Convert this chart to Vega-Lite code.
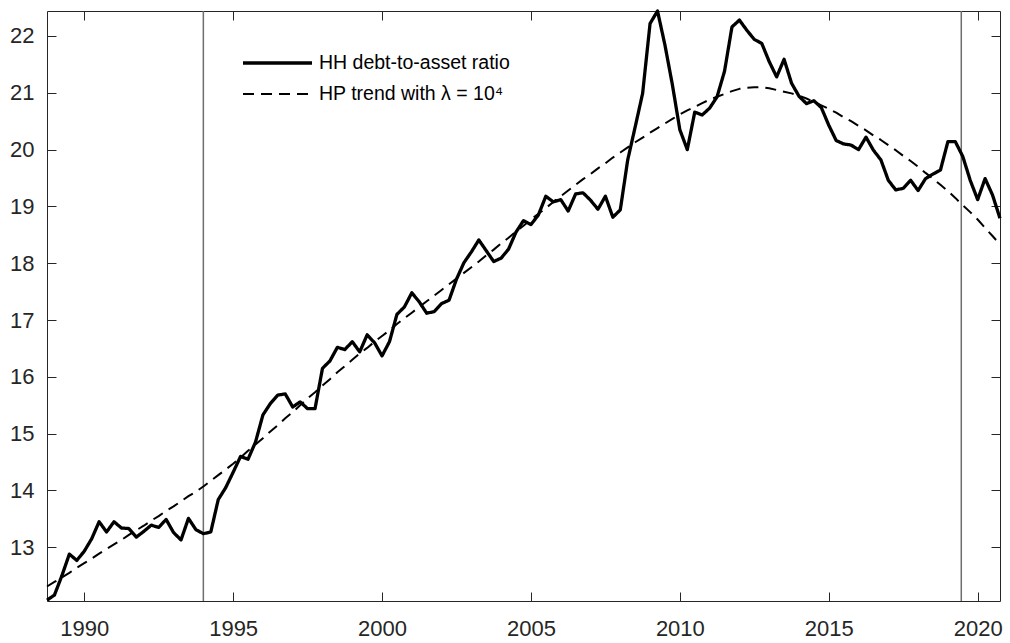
{
  "$schema": "https://vega.github.io/schema/vega-lite/v6.json",
  "width": 953,
  "height": 590,
  "autosize": {"type": "none"},
  "padding": {"left": 47, "top": 11, "right": 10, "bottom": 42},
  "background": "white",
  "config": {"view": {"stroke": null}, "font": "Liberation Sans"},
  "datasets": {
    "hh": [
      {"t": 1988.75, "ratio": 12.07, "trend": 12.31},
      {"t": 1989, "ratio": 12.16, "trend": 12.39},
      {"t": 1989.25, "ratio": 12.5, "trend": 12.47},
      {"t": 1989.5, "ratio": 12.88, "trend": 12.55},
      {"t": 1989.75, "ratio": 12.77, "trend": 12.64},
      {"t": 1990, "ratio": 12.93, "trend": 12.72},
      {"t": 1990.25, "ratio": 13.15, "trend": 12.8},
      {"t": 1990.5, "ratio": 13.45, "trend": 12.89},
      {"t": 1990.75, "ratio": 13.27, "trend": 12.97},
      {"t": 1991, "ratio": 13.45, "trend": 13.05},
      {"t": 1991.25, "ratio": 13.34, "trend": 13.13},
      {"t": 1991.5, "ratio": 13.33, "trend": 13.22},
      {"t": 1991.75, "ratio": 13.18, "trend": 13.3},
      {"t": 1992, "ratio": 13.28, "trend": 13.38},
      {"t": 1992.25, "ratio": 13.39, "trend": 13.47},
      {"t": 1992.5, "ratio": 13.35, "trend": 13.55},
      {"t": 1992.75, "ratio": 13.49, "trend": 13.64},
      {"t": 1993, "ratio": 13.26, "trend": 13.72},
      {"t": 1993.25, "ratio": 13.13, "trend": 13.81},
      {"t": 1993.5, "ratio": 13.51, "trend": 13.9},
      {"t": 1993.75, "ratio": 13.31, "trend": 13.98},
      {"t": 1994, "ratio": 13.24, "trend": 14.07},
      {"t": 1994.25, "ratio": 13.27, "trend": 14.17},
      {"t": 1994.5, "ratio": 13.84, "trend": 14.27},
      {"t": 1994.75, "ratio": 14.05, "trend": 14.37},
      {"t": 1995, "ratio": 14.32, "trend": 14.47},
      {"t": 1995.25, "ratio": 14.6, "trend": 14.58},
      {"t": 1995.5, "ratio": 14.55, "trend": 14.7},
      {"t": 1995.75, "ratio": 14.85, "trend": 14.81},
      {"t": 1996, "ratio": 15.33, "trend": 14.92},
      {"t": 1996.25, "ratio": 15.53, "trend": 15.04},
      {"t": 1996.5, "ratio": 15.68, "trend": 15.15},
      {"t": 1996.75, "ratio": 15.7, "trend": 15.27},
      {"t": 1997, "ratio": 15.47, "trend": 15.38},
      {"t": 1997.25, "ratio": 15.56, "trend": 15.5},
      {"t": 1997.5, "ratio": 15.44, "trend": 15.62},
      {"t": 1997.75, "ratio": 15.44, "trend": 15.73},
      {"t": 1998, "ratio": 16.15, "trend": 15.85},
      {"t": 1998.25, "ratio": 16.28, "trend": 15.96},
      {"t": 1998.5, "ratio": 16.52, "trend": 16.08},
      {"t": 1998.75, "ratio": 16.48, "trend": 16.19},
      {"t": 1999, "ratio": 16.62, "trend": 16.3},
      {"t": 1999.25, "ratio": 16.44, "trend": 16.41},
      {"t": 1999.5, "ratio": 16.74, "trend": 16.51},
      {"t": 1999.75, "ratio": 16.6, "trend": 16.62},
      {"t": 2000, "ratio": 16.37, "trend": 16.72},
      {"t": 2000.25, "ratio": 16.62, "trend": 16.82},
      {"t": 2000.5, "ratio": 17.1, "trend": 16.93},
      {"t": 2000.75, "ratio": 17.23, "trend": 17.03},
      {"t": 2001, "ratio": 17.48, "trend": 17.13},
      {"t": 2001.25, "ratio": 17.32, "trend": 17.23},
      {"t": 2001.5, "ratio": 17.12, "trend": 17.33},
      {"t": 2001.75, "ratio": 17.15, "trend": 17.43},
      {"t": 2002, "ratio": 17.29, "trend": 17.53},
      {"t": 2002.25, "ratio": 17.35, "trend": 17.63},
      {"t": 2002.5, "ratio": 17.72, "trend": 17.73},
      {"t": 2002.75, "ratio": 18.01, "trend": 17.83},
      {"t": 2003, "ratio": 18.2, "trend": 17.93},
      {"t": 2003.25, "ratio": 18.41, "trend": 18.03},
      {"t": 2003.5, "ratio": 18.22, "trend": 18.14},
      {"t": 2003.75, "ratio": 18.03, "trend": 18.24},
      {"t": 2004, "ratio": 18.09, "trend": 18.35},
      {"t": 2004.25, "ratio": 18.25, "trend": 18.45},
      {"t": 2004.5, "ratio": 18.55, "trend": 18.56},
      {"t": 2004.75, "ratio": 18.75, "trend": 18.66},
      {"t": 2005, "ratio": 18.68, "trend": 18.77},
      {"t": 2005.25, "ratio": 18.85, "trend": 18.87},
      {"t": 2005.5, "ratio": 19.18, "trend": 18.97},
      {"t": 2005.75, "ratio": 19.08, "trend": 19.08},
      {"t": 2006, "ratio": 19.12, "trend": 19.18},
      {"t": 2006.25, "ratio": 18.92, "trend": 19.28},
      {"t": 2006.5, "ratio": 19.22, "trend": 19.38},
      {"t": 2006.75, "ratio": 19.24, "trend": 19.48},
      {"t": 2007, "ratio": 19.11, "trend": 19.57},
      {"t": 2007.25, "ratio": 18.95, "trend": 19.67},
      {"t": 2007.5, "ratio": 19.18, "trend": 19.76},
      {"t": 2007.75, "ratio": 18.81, "trend": 19.86},
      {"t": 2008, "ratio": 18.94, "trend": 19.95},
      {"t": 2008.25, "ratio": 19.82, "trend": 20.04},
      {"t": 2008.5, "ratio": 20.4, "trend": 20.13},
      {"t": 2008.75, "ratio": 20.99, "trend": 20.21},
      {"t": 2009, "ratio": 22.22, "trend": 20.3},
      {"t": 2009.25, "ratio": 22.44, "trend": 20.38},
      {"t": 2009.5, "ratio": 21.84, "trend": 20.46},
      {"t": 2009.75, "ratio": 21.14, "trend": 20.54},
      {"t": 2010, "ratio": 20.35, "trend": 20.62},
      {"t": 2010.25, "ratio": 20.0, "trend": 20.69},
      {"t": 2010.5, "ratio": 20.66, "trend": 20.75},
      {"t": 2010.75, "ratio": 20.61, "trend": 20.82},
      {"t": 2011, "ratio": 20.73, "trend": 20.88},
      {"t": 2011.25, "ratio": 20.93, "trend": 20.93},
      {"t": 2011.5, "ratio": 21.38, "trend": 20.98},
      {"t": 2011.75, "ratio": 22.16, "trend": 21.03},
      {"t": 2012, "ratio": 22.28, "trend": 21.07},
      {"t": 2012.25, "ratio": 22.1, "trend": 21.09},
      {"t": 2012.5, "ratio": 21.94, "trend": 21.1},
      {"t": 2012.75, "ratio": 21.87, "trend": 21.1},
      {"t": 2013, "ratio": 21.55, "trend": 21.08},
      {"t": 2013.25, "ratio": 21.28, "trend": 21.05},
      {"t": 2013.5, "ratio": 21.59, "trend": 21.02},
      {"t": 2013.75, "ratio": 21.17, "trend": 20.99},
      {"t": 2014, "ratio": 20.94, "trend": 20.95},
      {"t": 2014.25, "ratio": 20.81, "trend": 20.9},
      {"t": 2014.5, "ratio": 20.86, "trend": 20.84},
      {"t": 2014.75, "ratio": 20.74, "trend": 20.78},
      {"t": 2015, "ratio": 20.43, "trend": 20.72},
      {"t": 2015.25, "ratio": 20.16, "trend": 20.65},
      {"t": 2015.5, "ratio": 20.1, "trend": 20.57},
      {"t": 2015.75, "ratio": 20.08, "trend": 20.5},
      {"t": 2016, "ratio": 20.0, "trend": 20.42},
      {"t": 2016.25, "ratio": 20.22, "trend": 20.34},
      {"t": 2016.5, "ratio": 19.99, "trend": 20.25},
      {"t": 2016.75, "ratio": 19.82, "trend": 20.17},
      {"t": 2017, "ratio": 19.46, "trend": 20.08},
      {"t": 2017.25, "ratio": 19.29, "trend": 19.99},
      {"t": 2017.5, "ratio": 19.32, "trend": 19.89},
      {"t": 2017.75, "ratio": 19.46, "trend": 19.8},
      {"t": 2018, "ratio": 19.28, "trend": 19.7},
      {"t": 2018.25, "ratio": 19.49, "trend": 19.59},
      {"t": 2018.5, "ratio": 19.57, "trend": 19.49},
      {"t": 2018.75, "ratio": 19.64, "trend": 19.38},
      {"t": 2019, "ratio": 20.14, "trend": 19.27},
      {"t": 2019.25, "ratio": 20.14, "trend": 19.15},
      {"t": 2019.5, "ratio": 19.88, "trend": 19.02},
      {"t": 2019.75, "ratio": 19.46, "trend": 18.9},
      {"t": 2020, "ratio": 19.12, "trend": 18.77},
      {"t": 2020.25, "ratio": 19.49, "trend": 18.62},
      {"t": 2020.5, "ratio": 19.2, "trend": 18.48},
      {"t": 2020.75, "ratio": 18.79, "trend": 18.33}
    ],
    "events": [{"t": 1994}, {"t": 2019.45}]
  },
  "layer": [
    {
      "data": {"name": "events"},
      "mark": {"type": "rule", "color": "#6e6e6e", "strokeWidth": 1.5},
      "encoding": {
        "x": {"field": "t", "type": "quantitative", "scale": {"domain": [1988.75, 2020.75], "nice": false, "zero": false}, "axis": null}
      }
    },
    {
      "data": {"name": "hh"},
      "transform": [{"fold": ["ratio", "trend"], "as": ["series", "value"]}],
      "mark": {"type": "line", "color": "black", "strokeJoin": "round"},
      "encoding": {
        "x": {"field": "t", "type": "quantitative", "scale": {"domain": [1988.75, 2020.75], "nice": false, "zero": false},
          "axis": {"orient": "bottom", "title": null, "values": [1990, 1995, 2000, 2005, 2010, 2015, 2020], "format": "d", "grid": false,
            "labelFont": "Liberation Sans", "labelFontSize": 22, "labelColor": "#262626", "labelFlush": false, "labelOverlap": false,
            "tickSize": -9, "tickColor": "#262626", "tickWidth": 1, "labelPadding": 26, "domainColor": "#262626", "domainWidth": 1}},
        "y": {"field": "value", "type": "quantitative", "scale": {"domain": [12.055, 22.44], "nice": false, "zero": false},
          "axis": {"orient": "left", "title": null, "values": [13, 14, 15, 16, 17, 18, 19, 20, 21, 22], "format": "d", "grid": false,
            "labelFont": "Liberation Sans", "labelFontSize": 22, "labelColor": "#262626", "labelFlush": false, "labelOverlap": false,
            "tickSize": -9, "tickColor": "#262626", "tickWidth": 1, "labelPadding": 22, "domainColor": "#262626", "domainWidth": 1}},
        "strokeDash": {"field": "series", "type": "nominal", "scale": {"domain": ["ratio", "trend"], "range": [[1, 0], [11, 7]]},
          "legend": {"orient": "none", "legendX": 194, "legendY": 44, "title": null, "symbolType": "stroke", "symbolSize": 4761,
            "clipHeight": 16, "rowPadding": 11, "padding": 0, "labelFont": "Liberation Sans", "labelFontSize": 19.5, "labelColor": "black",
            "labelOffset": 5, "labelLimit": 500, "symbolStrokeColor": "black",
            "labelExpr": "datum.value == 'ratio' ? 'HH debt-to-asset ratio' : 'HP trend with λ = 10⁴'"}},
        "strokeWidth": {"field": "series", "type": "nominal", "scale": {"domain": ["ratio", "trend"], "range": [3.3, 2]},
          "legend": {"orient": "none", "legendX": 194, "legendY": 44, "title": null, "symbolType": "stroke", "symbolSize": 4761,
            "clipHeight": 16, "rowPadding": 11, "padding": 0, "labelFont": "Liberation Sans", "labelFontSize": 19.5, "labelColor": "black",
            "labelOffset": 5, "labelLimit": 500, "symbolStrokeColor": "black",
            "labelExpr": "datum.value == 'ratio' ? 'HH debt-to-asset ratio' : 'HP trend with λ = 10⁴'"}}
      }
    },
    {
      "data": {"name": "hh"},
      "mark": {"type": "point", "opacity": 0},
      "encoding": {
        "x": {"field": "t", "type": "quantitative", "scale": {"domain": [1988.75, 2020.75], "nice": false, "zero": false},
          "axis": {"orient": "top", "title": null, "values": [1990, 1995, 2000, 2005, 2010, 2015, 2020], "labels": false, "grid": false,
            "tickSize": -9, "tickColor": "#262626", "tickWidth": 1, "domainColor": "#262626", "domainWidth": 1}},
        "y": {"field": "ratio", "type": "quantitative", "scale": {"domain": [12.055, 22.44], "nice": false, "zero": false},
          "axis": {"orient": "right", "title": null, "values": [13, 14, 15, 16, 17, 18, 19, 20, 21, 22], "labels": false, "grid": false,
            "tickSize": -9, "tickColor": "#262626", "tickWidth": 1, "domainColor": "#262626", "domainWidth": 1}}
      }
    }
  ],
  "resolve": {"axis": {"x": "independent", "y": "independent"}}
}
